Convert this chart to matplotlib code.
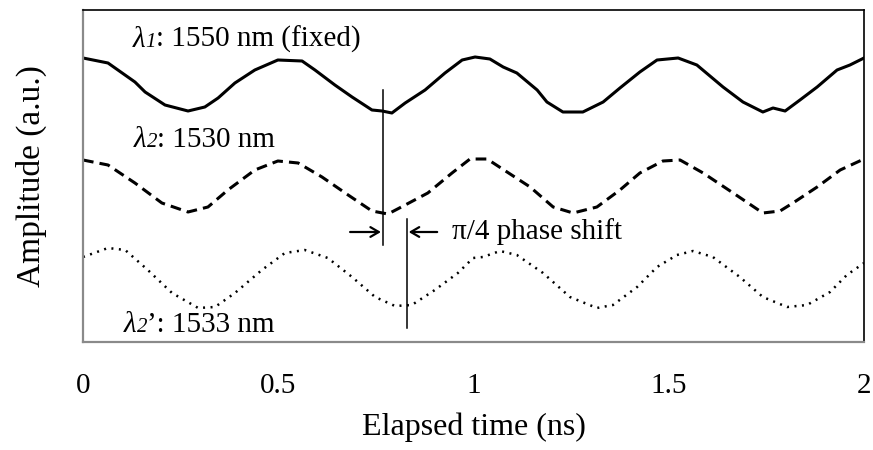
import matplotlib
matplotlib.use("Agg")
import matplotlib.pyplot as plt
from matplotlib.transforms import offset_copy

plt.rcParams['font.family'] = ['Liberation Serif', 'DejaVu Serif']

## Data (time in ns, amplitude in arbitrary units) #################################################
t_l1 = [0.0, 0.064, 0.133, 0.159, 0.210, 0.269, 0.312, 0.346, 0.389, 0.440, 0.499, 0.561,
        0.594, 0.645, 0.689, 0.740, 0.766, 0.791, 0.825, 0.876, 0.927, 0.971, 1.004, 1.042,
        1.076, 1.111, 1.163, 1.188, 1.229, 1.280, 1.332, 1.375, 1.426, 1.470, 1.524, 1.572,
        1.639, 1.690, 1.741, 1.767, 1.798, 1.836, 1.880, 1.931, 1.964, 2.0]
a_l1 = [284, 279, 260, 250, 237, 231, 235, 244, 259, 272, 282, 281,
        272, 257, 245, 232, 231, 229, 239, 252, 269, 282, 285, 283,
        275, 269, 252, 240, 230, 230, 240, 254, 270, 282, 284, 277,
        255, 240, 230, 234, 231, 242, 255, 272, 277, 284]

t_l2 = [0.0, 0.064, 0.133, 0.202, 0.269, 0.320, 0.371, 0.440, 0.499, 0.551, 0.612, 0.679,
        0.740, 0.781, 0.825, 0.883, 0.945, 0.991, 1.035, 1.086, 1.145, 1.204, 1.255, 1.316,
        1.375, 1.426, 1.485, 1.529, 1.588, 1.665, 1.741, 1.785, 1.818, 1.880, 1.939, 2.0]
a_l2 = [182, 177, 159, 139, 130, 135, 152, 172, 181, 179, 165, 147,
        131, 128, 137, 149, 169, 183, 183, 170, 155, 135, 129, 135,
        152, 169, 181, 182, 169, 149, 129, 131, 139, 155, 172, 183]

t_l2b = [0.0, 0.064, 0.108, 0.166, 0.228, 0.295, 0.338, 0.389, 0.458, 0.517, 0.568, 0.627,
         0.689, 0.748, 0.799, 0.842, 0.901, 0.960, 0.999, 1.024, 1.068, 1.111, 1.178, 1.247,
         1.316, 1.357, 1.419, 1.470, 1.521, 1.562, 1.613, 1.682, 1.741, 1.803, 1.854, 1.913,
         1.956, 2.0]
a_l2b = [85, 94, 92, 72, 49, 34, 35, 49, 72, 89, 92, 84,
         65, 45, 36, 37, 52, 69, 84, 85, 91, 87, 69, 45,
         34, 37, 55, 75, 87, 91, 85, 65, 45, 35, 37, 50,
         67, 79]

# markers of the phase shift
t_mark1, a_mark1 = 0.767, (97, 252)
t_mark2, a_mark2 = 0.830, (14, 123)

fig = plt.figure(figsize=(8.73, 4.5), dpi=100)
ax = fig.add_axes([83/873, 108/450, 781/873, 332/450])

ax.plot(t_l1, a_l1, color='black', lw=2.2, solid_joinstyle='round')
ax.plot(t_l2, a_l2, color='black', lw=2.2, linestyle=(0, (3.5, 2)))
ax.plot(t_l2b, a_l2b, color='black', lw=1.8, linestyle=(0, (0.8, 2.2)))

ax.plot([t_mark1, t_mark1], a_mark1, color='black', lw=1.1)
ax.plot([t_mark2, t_mark2], a_mark2, color='black', lw=1.1)

# arrows
arr = dict(arrowstyle='->,head_length=0.6,head_width=0.35', lw=1.6, color='black',
           shrinkA=0, shrinkB=0)
ax.annotate('', xy=(t_mark1 - 0.004, 110), xytext=(0.684, 110), arrowprops=arr)
ax.annotate('', xy=(t_mark2 + 0.004, 110), xytext=(0.907, 110), arrowprops=arr)
ax.text(0.945, 103, 'π/4 phase shift', fontsize=21, va='baseline')

# wavelength labels: italic lambda, small italic index, then the rest
renderer = fig.canvas.get_renderer()
def lam_label(x, y, idx, rest):
    t1 = ax.text(x, y, 'λ', fontsize=21, style='italic', va='baseline')
    w1 = t1.get_window_extent(renderer).width
    t2 = ax.text(x, y, idx, fontsize=15, style='italic', va='baseline',
                 transform=offset_copy(ax.transData, fig=fig, x=w1, y=0, units='dots'))
    w2 = t2.get_window_extent(renderer).width
    ax.text(x, y, rest, fontsize=21, va='baseline',
            transform=offset_copy(ax.transData, fig=fig, x=w1 + w2, y=0, units='dots'))

lam_label(0.128, 295, '1', ': 1550 nm (fixed)')
lam_label(0.131, 195, '2', ': 1530 nm')
lam_label(0.105, 10, '2', '’: 1533 nm')

ax.set_xlim(0, 2)
ax.set_ylim(0, 332)
ax.set_xticks([0, 0.5, 1, 1.5, 2])
ax.set_xticklabels(['0', '0.5', '1', '1.5', '2'])
ax.set_yticks([])
ax.tick_params(axis='x', length=0, pad=22, labelsize=21)
ax.set_xlabel('Elapsed time (ns)', fontsize=23, labelpad=10)
ax.set_ylabel('Amplitude (a.u.)', fontsize=24, labelpad=26)

for s in ['top', 'right']:
    ax.spines[s].set_color('black')
    ax.spines[s].set_linewidth(1.2)
for s in ['left', 'bottom']:
    ax.spines[s].set_color('#8a8a8a')
    ax.spines[s].set_linewidth(1.6)

fig.savefig('out.png', dpi=100)
